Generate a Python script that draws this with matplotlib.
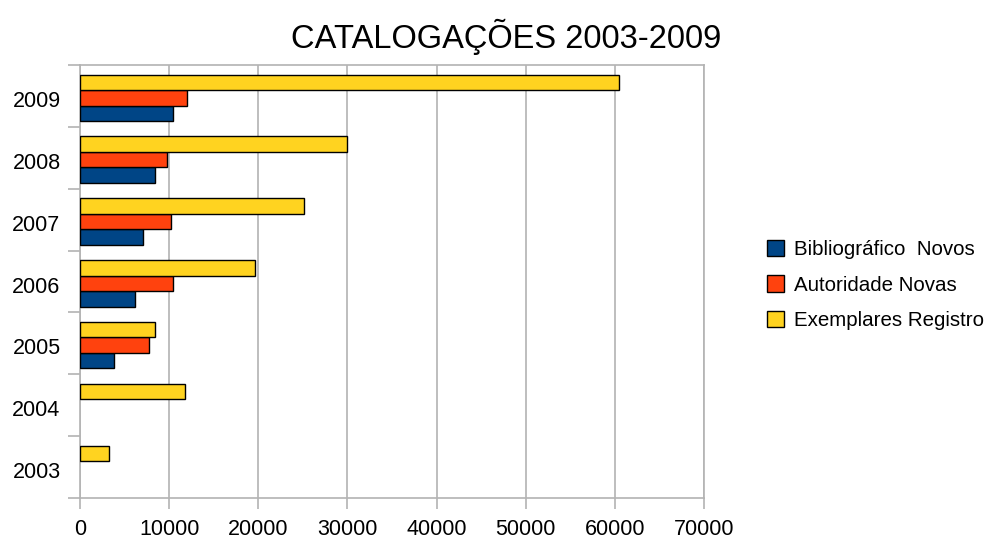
import matplotlib
matplotlib.use("Agg")
from matplotlib import pyplot as plt, ticker
import numpy as np

plt.rcParams['font.family'] = ['Liberation Sans', 'DejaVu Sans']

# Data
years = ["2003", "2004", "2005", "2006", "2007", "2008", "2009"]
bibliografico_novos = [0, 0, 3800, 6200, 7100, 8400, 10400]
autoridade_novas = [0, 0, 7700, 10400, 10200, 9800, 12000]
exemplares_registro = [3300, 11800, 8400, 19600, 25100, 30000, 60500]

series_names = ["Bibliográfico  Novos", "Autoridade Novas", "Exemplares Registro"]
colors = ["#004586", "#ff420e", "#ffd320"]
grid_color = "#b3b3b3"

fig = plt.figure(figsize=(9.91, 5.42), dpi=100)
ax = fig.add_axes([80 / 991, 44 / 542, 624 / 991, 433 / 542])

y = np.arange(len(years))
h = 0.25
handles = []
for offset, values, name, color in zip([-h, 0, h],
                                       [bibliografico_novos, autoridade_novas, exemplares_registro],
                                       series_names, colors):
    vals = np.array(values, dtype=float)
    mask = vals > 0
    bars = ax.barh(y[mask] + offset - 0.03, vals[mask], height=h, color=color,
                   edgecolor="black", linewidth=1.0, label=name, zorder=3)
    handles.append(bars)

# Axes limits & ticks
ax.set_xlim(0, 70000)
ax.set_ylim(-0.5, len(years) - 0.5)
ax.xaxis.set_major_locator(ticker.MultipleLocator(10000))
ax.set_yticks(y - 0.05)
ax.set_yticklabels(years)
ax.set_yticks(np.arange(-0.5, len(years)), minor=True)

ax.tick_params(axis='y', which='major', length=0, pad=14, labelsize=15.5)
ax.tick_params(axis='y', which='minor', length=9, color=grid_color, width=1.2)
ax.tick_params(axis='x', which='major', length=8, color=grid_color, width=1.2,
               pad=7, labelsize=15.5)

# Styling
ax.grid(True, axis='x', color=grid_color, linewidth=1.2, zorder=0)
for spine in ax.spines.values():
    spine.set_color(grid_color)
    spine.set_linewidth(1.2)

fig.text(506 / 991, 1 - 37 / 542, "CATALOGAÇÕES 2003-2009", ha="center", va="center",
         fontsize=23.5)

fig.legend(handles=handles, labels=series_names, loc="center left",
           bbox_to_anchor=(767 / 991, 1 - 285 / 542), frameon=False, fontsize=14.8,
           handlelength=0.85, handleheight=0.85, handletextpad=0.45, labelspacing=0.8,
           borderpad=0, borderaxespad=0)

fig.savefig("out.png", dpi=100)
